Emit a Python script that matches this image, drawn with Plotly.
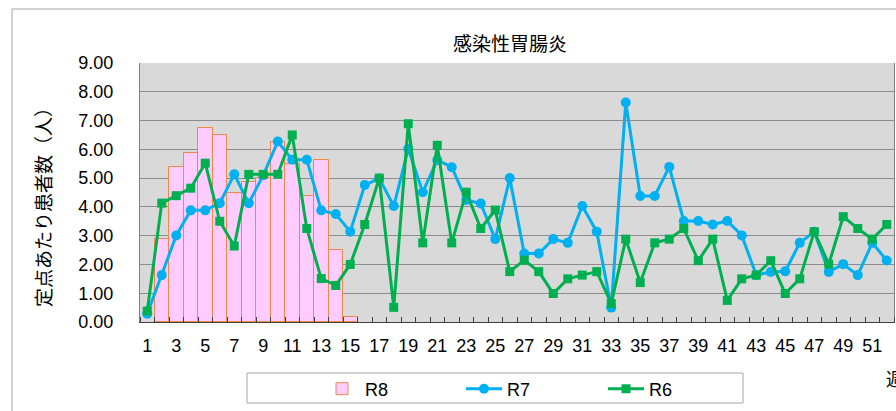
import plotly.graph_objects as go

weeks = list(range(1, 53))

r8 = [None, 2.87, 5.38, 5.87, 6.74, 6.49, 4.47, 4.85, 5.00, 6.25, 5.49, 4.38, 5.63, 2.50, 0.17] + [None] * 37

r7 = [0.29, 1.63, 3.01, 3.88, 3.88, 4.13, 5.13, 4.13, 5.10, 6.27,
      5.64, 5.64, 3.88, 3.75, 3.14, 4.76, 4.99, 4.03, 6.02, 4.51,
      5.63, 5.38, 4.24, 4.12, 2.88, 5.00, 2.38, 2.38, 2.88, 2.75,
      4.03, 3.14, 0.50, 7.63, 4.38, 4.38, 5.39, 3.51, 3.51, 3.39,
      3.51, 3.01, 1.63, 1.74, 1.76, 2.75, 3.14, 1.74, 2.01, 1.63,
      2.75, 2.14]

r6 = [0.38, 4.13, 4.39, 4.65, 5.52, 3.50, 2.64, 5.13, 5.13, 5.13,
      6.50, 3.25, 1.51, 1.27, 2.00, 3.39, 5.00, 0.51, 6.89, 2.75,
      6.14, 2.75, 4.51, 3.25, 3.89, 1.75, 2.15, 1.75, 0.99, 1.50,
      1.63, 1.75, 0.64, 2.88, 1.37, 2.75, 2.88, 3.25, 2.13, 2.88,
      0.75, 1.50, 1.63, 2.13, 0.99, 1.50, 3.14, 2.01, 3.66, 3.25,
      2.88, 3.39]

x_ticks = list(range(1, 53, 2))
y_ticks = [i * 1.0 for i in range(10)]
y_tick_text = [f"{v:.2f}" for v in y_ticks]

title = "感染性胃腸炎"
y_title = "定点あたり患者数（人）"
x_title = "週"

W, H = 896, 411
PL, PR, PT, PB = 140, 894, 63, 322  # plot area in window pixels
L, R, T, B = PL, W - PR, PT, H - PB
PW, PH = W - L - R, H - T - B


def px(xp):
    return (xp - L) / PW


def py(yp):
    return (H - B - yp) / PH


num_font = "Liberation Sans"
jp_font = "Noto Sans CJK JP"

fig = go.Figure()
fig.add_trace(go.Bar(
    x=weeks, y=r8, name="R8",
    marker=dict(color="#FFCCFF", line=dict(color="#F0884A", width=1)),
))
fig.add_trace(go.Scatter(
    x=weeks, y=r7, name="R7", mode="lines+markers",
    line=dict(color="#00B0F0", width=3),
    marker=dict(symbol="circle", size=10, color="#00B0F0"),
))
fig.add_trace(go.Scatter(
    x=weeks, y=r6, name="R6", mode="lines+markers",
    line=dict(color="#00B050", width=3),
    marker=dict(symbol="square", size=9, color="#00B050"),
))

fig.update_layout(
    width=W, height=H,
    margin=dict(l=L, r=R, t=T, b=B, autoexpand=False),
    paper_bgcolor="white",
    plot_bgcolor="#D9D9D9",
    bargap=0,
    showlegend=True,
    legend=dict(
        orientation="h", x=px(319), y=py(389), xanchor="left", yanchor="middle",
        entrywidth=91, entrywidthmode="pixels",
        font=dict(family=num_font, size=18, color="black"),
        bgcolor="rgba(0,0,0,0)", borderwidth=0,
        itemwidth=36,
    ),
    xaxis=dict(
        range=[0.5, 52.5],
        tickmode="array", tickvals=x_ticks, ticktext=[str(v) for v in x_ticks],
        ticks="", showgrid=False, zeroline=False,
        showline=True, linecolor="#404040", linewidth=1, mirror=False,
        tickfont=dict(family=num_font, size=18, color="black"),
        ticklabelstandoff=7,
        minor=dict(ticks="inside", tick0=0.5, dtick=1, ticklen=5,
                   tickcolor="#404040", showgrid=False),
    ),
    yaxis=dict(
        range=[0, 9],
        tickmode="array", tickvals=y_ticks, ticktext=y_tick_text,
        ticks="", showgrid=True, gridcolor="#8C8C8C", gridwidth=1,
        zeroline=False, showline=True, linecolor="#808080", linewidth=1,
        mirror=True,
        tickfont=dict(family=num_font, size=18, color="black"),
        ticklabelstandoff=22,
    ),
    annotations=[
        dict(text=title, x=px(510), y=py(43), xref="paper", yref="paper",
             showarrow=False, xanchor="center", yanchor="middle",
             font=dict(family=jp_font, size=19, color="black")),
        dict(text=y_title, x=px(42), y=py(203), xref="paper", yref="paper",
             showarrow=False, xanchor="center", yanchor="middle", textangle=-90,
             font=dict(family=jp_font, size=19, color="black")),
        dict(text=x_title, x=px(884), y=py(378), xref="paper", yref="paper",
             showarrow=False, xanchor="left", yanchor="middle",
             font=dict(family=jp_font, size=18, color="black")),
    ],
    shapes=[
        dict(type="rect", xref="paper", yref="paper",
             x0=px(12), x1=px(960), y0=py(520), y1=py(9),
             line=dict(color="#A6A6A6", width=1), fillcolor="rgba(0,0,0,0)",
             layer="below"),
        dict(type="rect", xref="paper", yref="paper",
             x0=px(247), x1=px(743), y0=py(403), y1=py(373),
             line=dict(color="#A6A6A6", width=1), fillcolor="white",
             layer="below"),
    ],
)

fig.write_html(
    "out.html",
    config={"displayModeBar": False},
    post_script=(
        "document.body.style.margin='0';"
        "document.body.style.overflow='hidden';"
        "document.documentElement.style.overflow='hidden';"
    ),
)
